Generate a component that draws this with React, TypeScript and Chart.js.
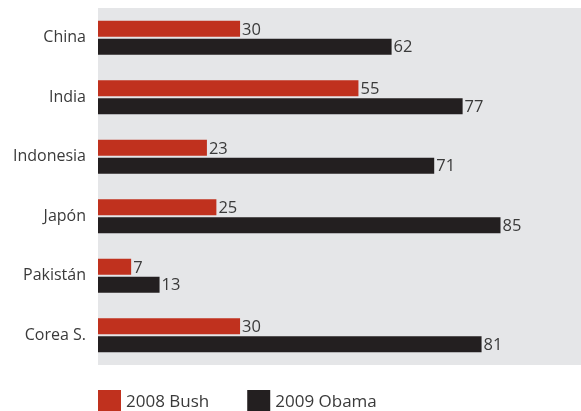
import React, { useEffect, useRef } from "react";
import { Chart, registerables } from "chart.js";

Chart.register(...registerables);

const categories = ["China", "India", "Indonesia", "Japón", "Pakistán", "Corea S."];
const bush2008 = [30, 55, 23, 25, 7, 30];
const obama2009 = [62, 77, 71, 85, 13, 81];
const seriesLabels = ["2008 Bush", "2009 Obama"];
const seriesColors = ["#C0311E", "#231F20"];

const FONT = "'Open Sans', sans-serif";
const TEXT = "#3a3a3a";

const panelPlugin = {
  id: "panel",
  beforeDraw(chart: any) {
    const { ctx, chartArea } = chart;
    ctx.save();
    ctx.fillStyle = "#E5E6E8";
    ctx.fillRect(chartArea.left, chartArea.top, chartArea.right - chartArea.left, chartArea.bottom - chartArea.top);
    ctx.restore();
  },
};

const valueLabelPlugin = {
  id: "valueLabels",
  afterDatasetsDraw(chart: any) {
    const { ctx } = chart;
    ctx.save();
    ctx.font = `16.5px ${FONT}`;
    ctx.fillStyle = TEXT;
    ctx.textAlign = "left";
    ctx.textBaseline = "middle";
    chart.data.datasets.forEach((ds: any, di: number) => {
      const meta = chart.getDatasetMeta(di);
      meta.data.forEach((bar: any, i: number) => {
        ctx.fillText(String(ds.data[i]), bar.x + 2, bar.y + 1);
      });
    });
    ctx.restore();
  },
};

const legendPlugin = {
  id: "customLegend",
  afterDraw(chart: any) {
    const { ctx, chartArea } = chart;
    ctx.save();
    ctx.font = `17px ${FONT}`;
    ctx.textBaseline = "middle";
    ctx.textAlign = "left";
    let x = chartArea.left;
    const y = 390;
    chart.data.datasets.forEach((ds: any) => {
      ctx.fillStyle = ds.backgroundColor;
      ctx.fillRect(x, y, 23, 21);
      ctx.fillStyle = TEXT;
      ctx.fillText(ds.label, x + 28, y + 12);
      const w = ctx.measureText(ds.label).width;
      x += 28 + w + 38;
    });
    ctx.restore();
  },
};

export default function App() {
  const ref = useRef<HTMLCanvasElement>(null);
  useEffect(() => {
    document.body.style.margin = "0";
    const chart = new Chart(ref.current!, {
      type: "bar",
      data: {
        labels: categories,
        datasets: [
          { label: seriesLabels[0], data: bush2008, backgroundColor: seriesColors[0] },
          { label: seriesLabels[1], data: obama2009, backgroundColor: seriesColors[1] },
        ],
      },
      options: {
        indexAxis: "y",
        animation: false,
        responsive: false,
        layout: { padding: { top: 8, bottom: 46, left: 0, right: 0 } },
        datasets: { bar: { barPercentage: 0.9, categoryPercentage: 0.6 } },
        plugins: { legend: { display: false }, tooltip: { enabled: false } },
        scales: {
          x: { display: false, min: 0, max: 102 },
          y: {
            grid: { display: false, drawTicks: false },
            border: { display: false },
            ticks: { color: TEXT, font: { family: FONT, size: 16 }, padding: 12 },
            afterFit(scale: any) {
              scale.width = 98;
              scale.paddingTop = 0;
              scale.paddingBottom = 0;
            },
          },
        },
      },
      plugins: [panelPlugin, valueLabelPlugin, legendPlugin],
    });
    return () => chart.destroy();
  }, []);
  return <canvas ref={ref} width={581} height={411} style={{ display: "block" }} />;
}
